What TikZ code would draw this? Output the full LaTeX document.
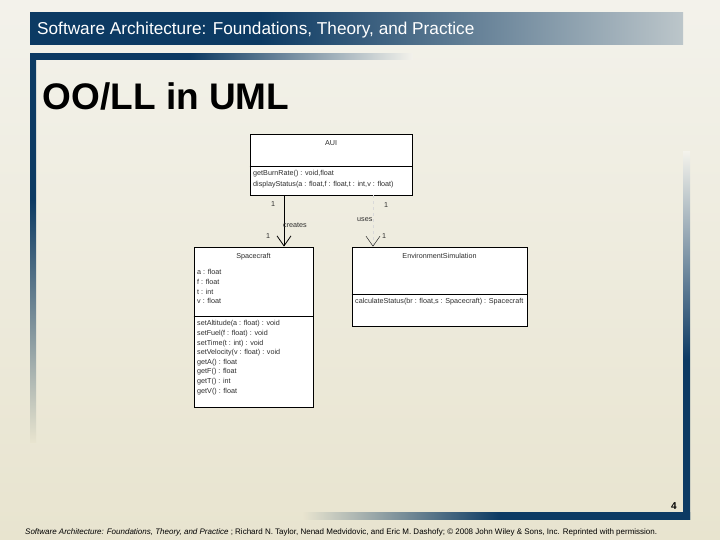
\documentclass[tikz,border=0pt]{standalone}
\usepackage{fontspec}
\setmainfont{Liberation Sans}
\usepackage{tikz}
\usetikzlibrary{positioning, arrows.meta}
\definecolor{slidenavy}{HTML}{0C3A63}
\definecolor{slidebgtop}{HTML}{F3F2EB}
\definecolor{slidebgbottom}{HTML}{E8E4CF}
\definecolor{barlight}{HTML}{BCC6CA}
\definecolor{umlgray}{HTML}{2E2E2E}

% bar fades (the path is mapped onto 25bp--75bp)
\pgfdeclarehorizontalshading{headerfade}{100bp}{color(0bp)=(slidenavy); color(25bp)=(slidenavy);
  color(42.6bp)=(slidenavy); color(75bp)=(barlight); color(100bp)=(barlight)}
\pgfdeclarehorizontalshading{topfade}{100bp}{color(0bp)=(slidenavy); color(25bp)=(slidenavy);
  color(45.9bp)=(slidenavy); color(75bp)=(slidebgtop); color(100bp)=(slidebgtop)}
\pgfdeclareverticalshading{leftfade}{100bp}{color(0bp)=(slidebgbottom); color(25bp)=(slidebgbottom);
  color(56.2bp)=(slidenavy); color(100bp)=(slidenavy)}
\pgfdeclareverticalshading{rightfade}{100bp}{color(0bp)=(slidenavy); color(46.7bp)=(slidenavy);
  color(75bp)=(slidebgtop); color(100bp)=(slidebgtop)}
\pgfdeclarehorizontalshading{bottomfade}{100bp}{color(0bp)=(slidebgbottom); color(25bp)=(slidebgbottom);
  color(50.4bp)=(slidenavy); color(100bp)=(slidenavy)}

\tikzset{
  classbox/.style={draw=black, fill=white, line width=0.8pt, inner sep=0pt},
  umltext/.style={anchor=west, inner sep=0pt, text=umlgray,
                  font=\fontsize{7.2}{8}\selectfont},
  umlname/.style={umltext, anchor=north},
  assoc/.style={line width=0.8pt, -{Straight Barb[length=10pt, width=14pt]}},
  depends/.style={line width=0.5pt, dashed, gray!30, -{Straight Barb[length=10pt, width=14pt, black!85]}},
}

\begin{document}
\begin{tikzpicture}[x=1pt, y=-1pt]
  \useasboundingbox (0,0) rectangle (720,540);
  \shade[top color=slidebgtop, bottom color=slidebgbottom] (0,0) rectangle (720,540);

  % header bar
  \shade[shading=headerfade] (30,13) rectangle (683,45);
  \node[anchor=base west, inner sep=0pt, text=white, font=\fontsize{17.2}{20}\selectfont]
    (header) at (37,34.5) {Software Architecture: Foundations, Theory, and Practice};

  % title frame
  \shade[shading=topfade] (30,54) rectangle (413,60);
  \shade[shading=leftfade] (30,54) rectangle (36,442);
  \node[anchor=base west, inner sep=0pt, font=\fontsize{37}{40}\selectfont\bfseries]
    (title) at (42.5,110) {OO/LL in UML};

  % bottom frame
  \shade[shading=rightfade] (683,152) rectangle (690,519);
  \shade[shading=bottomfade] (303,512) rectangle (690,519);
  \node[anchor=base east, inner sep=0pt, font=\fontsize{10}{12}\selectfont\bfseries]
    (pagenum) at (677,509) {4};
  \node[anchor=base west, inner sep=0pt, font=\fontsize{8}{9}\selectfont]
    (footer) at (25,534) {\textit{Software Architecture: Foundations, Theory, and Practice} ; Richard N. Taylor, Nenad Medvidovic, and Eric M. Dashofy; \textcopyright{} 2008 John Wiley \& Sons, Inc. Reprinted with permission.};

  % classes
  \node[classbox, minimum width=162pt, minimum height=61pt] (aui) at (331,164.5) {};
  \node[umlname, below=7pt of aui.north] (auiname) {AUI};
  \draw[line width=0.8pt] (aui.west |- 0,166) -- (aui.east |- 0,166);
  \foreach \op [count=\i] in {{getBurnRate() : void,float},
      {displayStatus(a : float,f : float,t : int,v : float)}}
    \node[umltext] (auiop\i) at (253,163+\i*11) {\op};

  \node[classbox, minimum width=119pt, minimum height=160pt] (sc) at (253.5,327) {};
  \node[umlname, below=6pt of sc.north] (scname) {Spacecraft};
  \foreach \att [count=\i] in {a : float, f : float, t : int, v : float}
    \node[umltext] (scatt\i) at (197,262.2+\i*9.8) {\att};
  \draw[line width=0.8pt] (sc.west |- 0,316) -- (sc.east |- 0,316);
  \foreach \op [count=\i] in {setAltitude(a : float) : void, setFuel(f : float) : void,
      setTime(t : int) : void, setVelocity(v : float) : void,
      getA() : float, getF() : float, getT() : int, getV() : float}
    \node[umltext] (scop\i) at (197,314.5+\i*9.6) {\op};

  \node[classbox, minimum width=175pt, minimum height=79pt] (env) at (439.5,286.5) {};
  \node[umlname, below=6pt of env.north] (envname) {EnvironmentSimulation};
  \draw[line width=0.8pt] (env.west |- 0,294) -- (env.east |- 0,294);
  \node[umltext] (envop1) at (355,302) {calculateStatus(br : float,s : Spacecraft) : Spacecraft};

  % connectors
  \draw[assoc] (aui.south -| 284,0) -- (sc.north -| 284,0);
  \draw[depends] (aui.south -| 373,0) -- (env.north -| 373,0);
  \node[umltext] (creates) at (283,225) {creates};
  \node[umltext] (uses) at (357,220) {uses};
  \node[umltext] (multa) at (271,204) {1};
  \node[umltext] (multb) at (384,205) {1};
  \node[umltext] (multc) at (266,236) {1};
  \node[umltext] (multd) at (382,236) {1};
\end{tikzpicture}
\end{document}
